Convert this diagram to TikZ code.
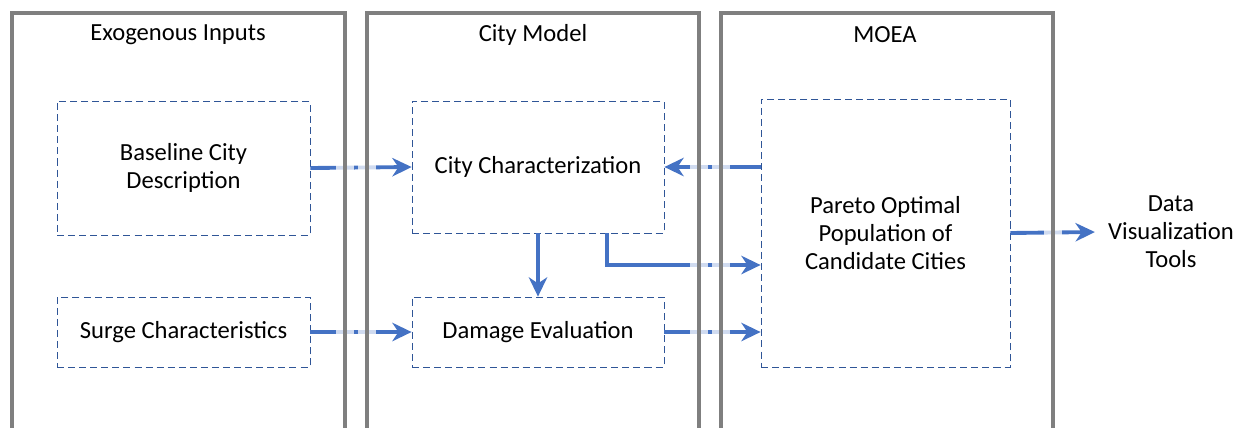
\documentclass[tikz,border=0pt]{standalone}
\usepackage{fontspec}
\setmainfont{Carlito}
\usetikzlibrary{arrows.meta,positioning}
\definecolor{frame}{HTML}{7F7F7F}
\definecolor{boxline}{HTML}{2F5597}
\definecolor{flow}{HTML}{4472C4}
\tikzset{
  column/.style={draw=frame, line width=1.9pt, line join=miter},
  halo/.style={draw=white, draw opacity=0.75, line width=0.36cm},
  stage/.style={draw=boxline, line width=0.45pt, dash pattern=on 4pt off 2.3pt,
    align=center, inner sep=0pt},
  title/.style={inner sep=0pt},
  link/.style={draw=flow, line width=2.2pt,
    -{Stealth[length=11pt, width=10.5pt, inset=3.5pt]}}
}

\begin{document}
\begin{tikzpicture}[x=0.02cm, y=-0.02cm, font=\fontsize{14}{16}\selectfont]
  \useasboundingbox (0,0) rectangle (1238,427);

  % stages
  \node[stage, minimum width=5.06cm, minimum height=2.68cm] (baseline) at (183.5,168) {Baseline City\\Description};
  \node[stage, minimum width=5.06cm, minimum height=1.40cm] (surge) at (183.5,332) {Surge Characteristics};
  \node[stage, minimum width=5.04cm, minimum height=2.64cm] (citychar) at (538,167) {City Characterization};
  \node[stage, minimum width=5.04cm, minimum height=1.40cm] (damage) at (538,332) {Damage Evaluation};
  \node[stage, minimum width=4.98cm, minimum height=5.36cm] (pareto) at (885.5,233) {Pareto Optimal\\Population of\\Candidate Cities};
  \node[align=center, inner xsep=0.26cm, inner ysep=0pt] (tools) at (1171,232) {Data\\Visualization\\Tools};

  % links
  \coordinate (elbow) at (607,265);
  \draw[link] (baseline.east) -- (citychar.west);
  \draw[link] (pareto.west |- citychar.east) -- (citychar.east);
  \draw[link] (citychar.south) -- (damage.north);
  \draw[link] (citychar.south -| elbow) |- (pareto.west |- elbow);
  \draw[link] (surge.east) -- (damage.west);
  \draw[link] (damage.east) -- (damage.east -| pareto.west);
  \draw[link] (pareto.east) -- (tools.west);

  % columns
  \foreach \l/\r in {12/345, 367/699, 721/1053} {
    \draw[halo] (\l,430) |- (\r,13) -- (\r,430);
    \draw[column] (\l,430) |- (\r,13) -- (\r,430);
  }
  \node[title] (inputs) at (178,35) {Exogenous Inputs};
  \node[title] (model) at (533,35) {City Model};
  \node[title] (moea) at (885,35) {MOEA};
\end{tikzpicture}
\end{document}
